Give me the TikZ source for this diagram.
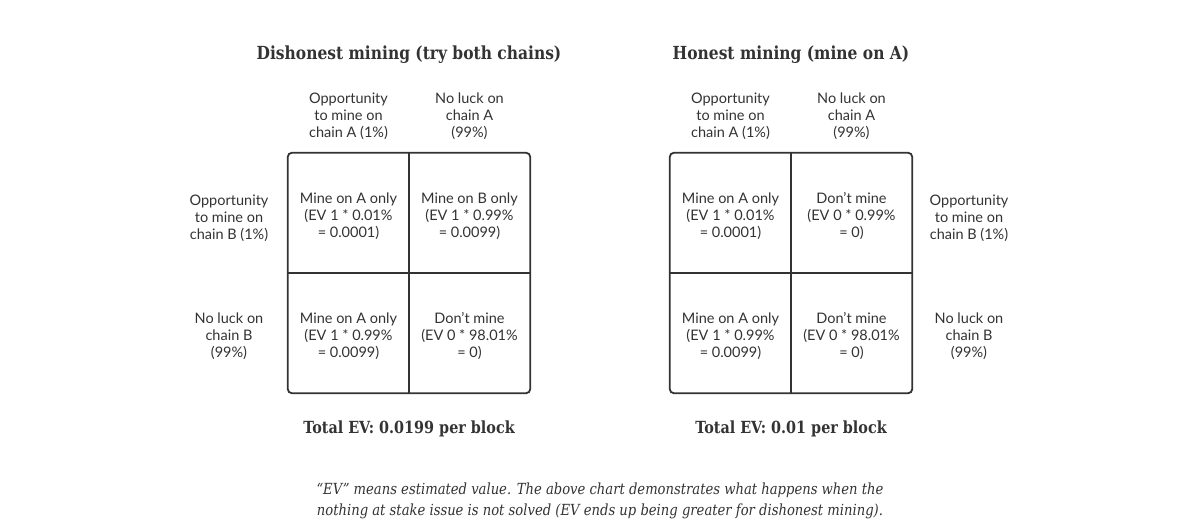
\documentclass[tikz,border=0pt]{standalone}
\usepackage{fontspec}
\setmainfont{Lato}
\newfontfamily\slabfont[FakeStretch=0.86]{DejaVu Serif}
\usetikzlibrary{positioning}
\definecolor{ink}{HTML}{333333}

\begin{document}
\begin{tikzpicture}[x=1pt,y=-1pt,every node/.style={text=ink,align=center},
    small/.style={font=\fontsize{14.5}{17}\selectfont},
    cell/.style={small,minimum width=121pt,minimum height=120pt,inner sep=0pt},
    title/.style={font=\slabfont\bfseries\fontsize{18}{20}\selectfont},
    total/.style={font=\slabfont\bfseries\fontsize{16.7}{20}\selectfont},
    gridline/.style={draw=ink,line width=1.8pt}]
  \useasboundingbox[fill=white] (0,0) rectangle (1200,523);

  % dishonest mining
  \node[title] (dtitle) at (409,55) {Dishonest mining (try both chains)};
  \node[cell] (dAA) at (348.5,213) {};
  \node[cell] (dAB) at (469.5,213) {};
  \node[cell] (dBA) at (348.5,333) {};
  \node[cell] (dBB) at (469.5,333) {};
  \draw[gridline,rounded corners=4pt] (dAA.north west) rectangle (dBB.south east);
  \draw[gridline] (dAA.north east) -- (dBA.south east);
  \draw[gridline] (dAA.south west) -- (dAB.south east);
  \node[small] at ([yshift=-3pt]dAA.center) {Mine on A only\\(EV 1 * 0.01\%\\= 0.0001)};
  \node[small] at ([yshift=-3pt]dAB.center) {Mine on B only\\(EV 1 * 0.99\%\\= 0.0099)};
  \node[small] at ([yshift=-3pt]dBA.center) {Mine on A only\\(EV 1 * 0.99\%\\= 0.0099)};
  \node[small] at ([yshift=-3pt]dBB.center) {Don’t mine\\(EV 0 * 98.01\%\\= 0)};
  \node[small] (dcolA) at (348.5,116) {Opportunity\\to mine on\\chain A (1\%)};
  \node[small] (dcolB) at (469.5,116) {No luck on\\chain A\\(99\%)};
  \node[small] (drowA) at (229,218) {Opportunity\\to mine on\\chain B (1\%)};
  \node[small] (drowB) at (229,336) {No luck on\\chain B\\(99\%)};
  \node[total] (dtotal) at (409,429) {Total EV: 0.0199 per block};

  % honest mining
  \node[title] (htitle) at (791,55) {Honest mining (mine on A)};
  \node[cell] (hAA) at (730.5,213) {};
  \node[cell] (hAB) at (851.5,213) {};
  \node[cell] (hBA) at (730.5,333) {};
  \node[cell] (hBB) at (851.5,333) {};
  \draw[gridline,rounded corners=4pt] (hAA.north west) rectangle (hBB.south east);
  \draw[gridline] (hAA.north east) -- (hBA.south east);
  \draw[gridline] (hAA.south west) -- (hAB.south east);
  \node[small] at ([yshift=-3pt]hAA.center) {Mine on A only\\(EV 1 * 0.01\%\\= 0.0001)};
  \node[small] at ([yshift=-3pt]hAB.center) {Don’t mine\\(EV 0 * 0.99\%\\= 0)};
  \node[small] at ([yshift=-3pt]hBA.center) {Mine on A only\\(EV 1 * 0.99\%\\= 0.0099)};
  \node[small] at ([yshift=-3pt]hBB.center) {Don’t mine\\(EV 0 * 98.01\%\\= 0)};
  \node[small] (hcolA) at (730.5,116) {Opportunity\\to mine on\\chain A (1\%)};
  \node[small] (hcolB) at (851.5,116) {No luck on\\chain A\\(99\%)};
  \node[small] (hrowA) at (969,218) {Opportunity\\to mine on\\chain B (1\%)};
  \node[small] (hrowB) at (969,336) {No luck on\\chain B\\(99\%)};
  \node[total] (htotal) at (791,429) {Total EV: 0.01 per block};

  % caption
  \node[font=\slabfont\itshape\fontsize{15.3}{21}\selectfont] (note) at (600,501)
    {“EV” means estimated value. The above chart demonstrates what happens when the\\
     nothing at stake issue is not solved (EV ends up being greater for dishonest mining).};
\end{tikzpicture}
\end{document}
